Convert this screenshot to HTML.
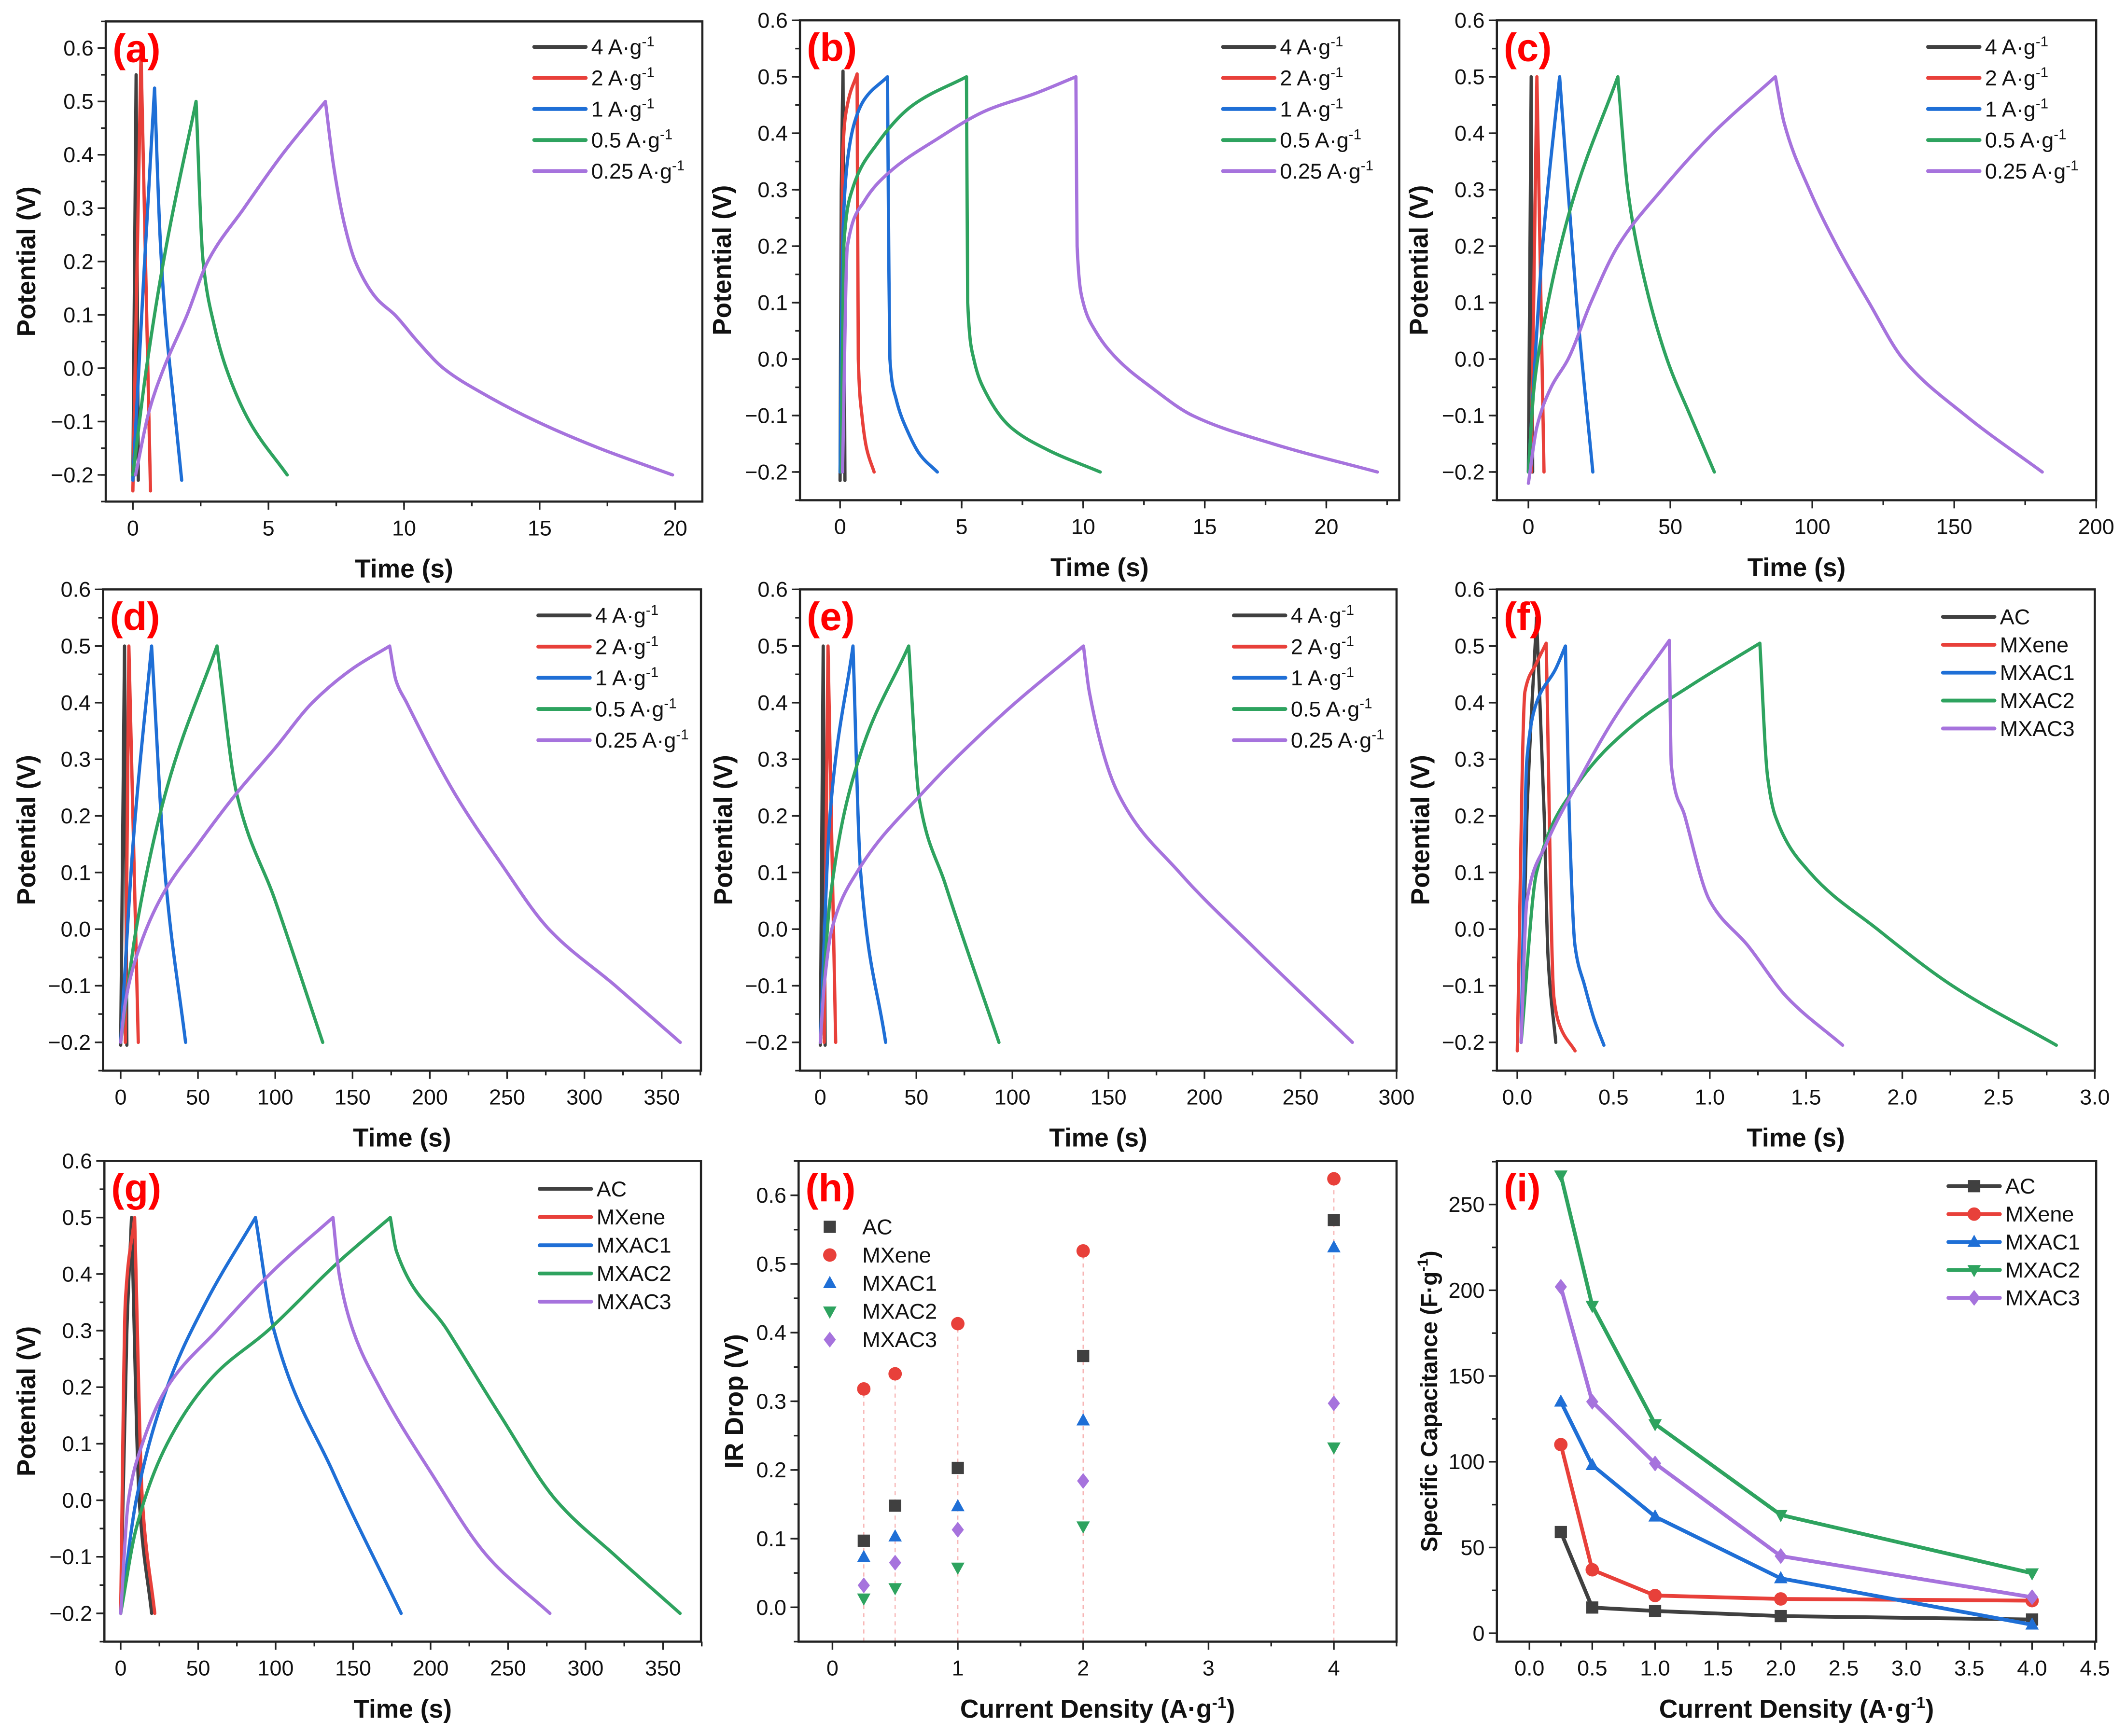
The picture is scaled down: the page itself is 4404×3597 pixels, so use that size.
<!DOCTYPE html>
<html><head><meta charset="utf-8">
<style>
html,body{margin:0;padding:0;background:#fff;}
svg{display:block;}
text{font-family:"Liberation Sans",sans-serif;}
</style></head>
<body>
<svg id="fig" width="4404" height="3597" viewBox="0 0 1568 1280.6" preserveAspectRatio="none" xmlns="http://www.w3.org/2000/svg"></svg>
<script>
// ---------- DATA ----------
const rateLabels = ["4", "2", "1", "0.5", "0.25"];
const matLabels = ["AC", "MXene", "MXAC1", "MXAC2", "MXAC3"];
const colors = ["#404040", "#e8403a", "#1f6fd6", "#2ea35f", "#a673dd"];

// panel a (time s, potential V)
const a_4 = [[0,-0.21],[0.12,0.55],[0.2,-0.21]];
const a_2 = [[0,-0.23],[0.3,0.59],[0.65,-0.23]];
const a_1 = [[0,-0.21],[0.4,0.17],[0.8,0.525],[1.0,0.25],[1.2,0.09],[1.5,-0.06],[1.8,-0.21]];
const a_05 = [[0,-0.2],[0.5,0.0],[1.2,0.22],[2.33,0.5],[2.59,0.2],[3.0,0.08],[3.44,0.0],[4.3,-0.1],[5.69,-0.2]];
const a_025 = [[0.1,-0.2],[0.6,-0.08],[1.14,0.0],[2.0,0.1],[2.76,0.2],[4.1,0.3],[5.5,0.4],[7.1,0.5],[7.4,0.38],[7.8,0.27],[8.2,0.2],[9.0,0.13],[9.66,0.1],[10.5,0.05],[11.45,0.0],[13.0,-0.05],[14.9,-0.1],[17.2,-0.15],[19.9,-0.2]];
// panel b
const b_4 = [[0,-0.215],[0.05,0.3],[0.12,0.51],[0.2,-0.215]];
const b_2 = [[0.05,-0.2],[0.1,0.35],[0.3,0.45],[0.7,0.505],[0.75,0.0],[0.9,-0.1],[1.1,-0.16],[1.4,-0.2]];
const b_1 = [[0,-0.2],[0.1,0.2],[0.3,0.35],[0.6,0.42],[1.0,0.46],[1.95,0.5],[2.0,0.2],[2.05,0.0],[2.3,-0.07],[2.8,-0.13],[3.3,-0.17],[4.0,-0.2]];
const b_05 = [[0.05,-0.2],[0.15,0.2],[0.5,0.3],[1.5,0.38],[3.0,0.45],[5.2,0.5],[5.25,0.1],[5.5,0.0],[6.0,-0.06],[7.0,-0.12],[8.5,-0.16],[10.7,-0.2]];
const b_025 = [[0.1,-0.2],[0.3,0.2],[1.0,0.28],[2.0,0.33],[4.0,0.39],[6.0,0.44],[8.0,0.47],[9.7,0.5],[9.75,0.2],[10.0,0.1],[10.5,0.05],[11.4,0.0],[12.8,-0.05],[14.5,-0.1],[17.8,-0.15],[22.1,-0.2]];
// panel c
const c_4 = [[0,-0.2],[1,0.5],[1.5,-0.2]];
const c_2 = [[1,-0.2],[3,0.5],[5.5,-0.2]];
const c_1 = [[0,-0.2],[5,0.2],[11,0.5],[17,0.1],[22.7,-0.2]];
const c_05 = [[0,-0.2],[2,-0.05],[5,0.05],[15,0.27],[31.5,0.5],[35,0.3],[40,0.16],[48.8,0.0],[57,-0.1],[65.5,-0.2]];
const c_025 = [[0,-0.22],[3,-0.12],[8,-0.05],[14,0.0],[22,0.1],[31.5,0.2],[47,0.3],[65,0.4],[87,0.5],[90,0.42],[99,0.3],[108.7,0.2],[120,0.1],[132,0.0],[154,-0.1],[181,-0.2]];
// panel d
const d_4 = [[0,-0.205],[2.5,0.5],[4,-0.205]];
const d_2 = [[3,-0.2],[5.3,0.5],[11.4,-0.2]];
const d_1 = [[0,-0.2],[8,0.15],[20,0.5],[29,0.09],[42,-0.2]];
const d_05 = [[0,-0.2],[10,0.0],[30,0.25],[62.3,0.5],[75,0.24],[100,0.05],[130.7,-0.2]];
const d_025 = [[0,-0.2],[3,-0.13],[10,-0.05],[27,0.06],[50,0.15],[75,0.24],[100,0.32],[124,0.4],[150,0.46],[174,0.5],[178,0.44],[185,0.4],[216,0.24],[245,0.12],[277,0.0],[320,-0.1],[362,-0.2]];
// panel e
const e_4 = [[0,-0.205],[1.5,0.5],[2.5,-0.205]];
const e_2 = [[2,-0.2],[4,0.5],[8,-0.2]];
const e_1 = [[0,-0.2],[5,0.2],[17,0.5],[21,0.1],[34,-0.2]];
const e_05 = [[0,-0.2],[5,0.05],[20,0.3],[46,0.5],[51.5,0.23],[65,0.08],[93,-0.2]];
const e_025 = [[0,-0.2],[2,-0.1],[6,0.0],[19,0.1],[53,0.24],[95,0.38],[137,0.5],[140,0.42],[155,0.24],[187,0.1],[225,-0.03],[277,-0.2]];
// panel f
const f_ac = [[0.02,-0.2],[0.05,0.2],[0.1,0.55],[0.14,0.2],[0.16,-0.05],[0.2,-0.2]];
const f_mx = [[0.0,-0.215],[0.04,0.42],[0.1,0.47],[0.15,0.505],[0.19,-0.12],[0.22,-0.17],[0.3,-0.215]];
const f_m1 = [[0.02,-0.2],[0.05,0.3],[0.1,0.4],[0.2,0.46],[0.25,0.5],[0.27,0.2],[0.3,-0.03],[0.35,-0.1],[0.4,-0.16],[0.45,-0.205]];
const f_m2 = [[0.02,-0.2],[0.1,0.1],[0.3,0.25],[0.6,0.36],[0.9,0.43],[1.26,0.505],[1.3,0.27],[1.34,0.2],[1.52,0.1],[1.87,0.0],[2.26,-0.1],[2.8,-0.205]];
const f_m3 = [[0.02,-0.2],[0.05,0.05],[0.15,0.15],[0.3,0.25],[0.5,0.37],[0.79,0.51],[0.8,0.29],[0.87,0.2],[1.0,0.05],[1.2,-0.03],[1.4,-0.12],[1.69,-0.205]];
// panel g
const g_ac = [[0,-0.2],[4,0.3],[7,0.5],[12,0.0],[20,-0.2]];
const g_mx = [[0,-0.2],[3,0.35],[9,0.5],[14,0.0],[22,-0.2]];
const g_m1 = [[0,-0.2],[10,0.0],[30,0.2],[55,0.35],[87,0.5],[99,0.3],[137,0.05],[181,-0.2]];
const g_m2 = [[0,-0.2],[10,-0.05],[30,0.1],[60,0.22],[95,0.3],[140,0.42],[174,0.5],[178,0.44],[211,0.3],[245,0.15],[281,0.0],[320,-0.1],[361,-0.2]];
const g_m3 = [[0,-0.2],[5,0.0],[14,0.1],[30,0.2],[62,0.3],[100,0.41],[137,0.5],[141,0.4],[150,0.3],[167,0.2],[200,0.05],[237,-0.1],[277,-0.2]];
// panel h (IR drop, V)
const currentDensity = [0.25, 0.5, 1, 2, 4];
const ir_ac = [0.097, 0.148, 0.203, 0.366, 0.564];
const ir_mx = [0.318, 0.340, 0.413, 0.519, 0.624];
const ir_m1 = [0.073, 0.103, 0.147, 0.272, 0.524];
const ir_m2 = [0.013, 0.028, 0.058, 0.118, 0.233];
const ir_m3 = [0.032, 0.065, 0.113, 0.184, 0.297];
// panel i (specific capacitance, F/g)
const cap_ac = [59, 15, 13, 10, 8];
const cap_mx = [110, 37, 22, 20, 19];
const cap_m1 = [135, 98, 68, 32, 5];
const cap_m2 = [267, 191, 122, 69, 35];
const cap_m3 = [202, 135, 99, 45, 21];

// ---------- RENDER ----------
const NS = "http://www.w3.org/2000/svg";
const svg = document.getElementById("fig");
function el(tag, attrs, parent) {
  const e = document.createElementNS(NS, tag);
  for (const k in attrs) e.setAttribute(k, attrs[k]);
  (parent || svg).appendChild(e);
  return e;
}
function range(a, b, s) { const r = []; for (let v = a; v <= b + 1e-9; v += s) r.push(+v.toFixed(6)); return r; }
function fmt(v, d) { const s = Math.abs(v).toFixed(d); return (v < -1e-9 ? "\u2212" : "") + s; }

function makePanel(p) {
  const g = el("g", {});
  
  
  const sx = v => p.x0 + (v - p.xd[0]) / (p.xd[1] - p.xd[0]) * (p.x1 - p.x0);
  const sy = v => p.y1 - (v - p.yd[0]) / (p.yd[1] - p.yd[0]) * (p.y1 - p.y0);
  p.sx = sx; p.sy = sy; p.g = g;
  const ax = el("g", {stroke: "#222", "stroke-width": 1.2}, g);
  
  
  p.xt.forEach(v => { el("line", {x1: sx(v), x2: sx(v), y1: p.y1, y2: p.y1 + 6}, ax); });
  p.xm.forEach(v => { el("line", {x1: sx(v), x2: sx(v), y1: p.y1, y2: p.y1 + 3.5}, ax); });
  p.yt.forEach(v => { el("line", {x1: p.x0, x2: p.x0 - 6, y1: sy(v), y2: sy(v)}, ax); });
  p.ym.forEach(v => { el("line", {x1: p.x0, x2: p.x0 - 3.5, y1: sy(v), y2: sy(v)}, ax); });
  p.xt.forEach(v => {
    const t = el("text", {x: sx(v), y: p.y1 + 25, "font-size": 16, "text-anchor": "middle", fill: "#111"}, g);
    
    
    t.textContent = fmt(v, p.xdec);
  });
  p.yt.forEach(v => {
    const t = el("text", {x: p.x0 - 9, y: sy(v) + 5.5, "font-size": 16, "text-anchor": "end", fill: "#111"}, g);
    
    
    t.textContent = fmt(v, p.ydec);
  });
  const xt = el("text", {x: (p.x0 + p.x1) / 2, y: p.y1 + 56, "font-size": 19, "font-weight": "bold", "text-anchor": "middle", fill: "#111"}, g);
  
  
  if (p.xtitleSup) {
    xt.appendChild(document.createTextNode("Current Density (A\u00b7g"));
    const s = el("tspan", {dy: -7, "font-size": 12}, xt); s.textContent = "-1";
    const s2 = el("tspan", {dy: 7}, xt); s2.textContent = ")";
  } else xt.textContent = "Time (s)";
  const yc = (p.y0 + p.y1) / 2, yx = p.x0 - p.ytOff;
  const yt = el("text", {x: yx, y: yc, "font-size": p.ytSize || 19, "font-weight": "bold", "text-anchor": "middle", fill: "#111", transform: `rotate(-90 ${yx} ${yc})`, dy: 6}, g);
  
  
  if (p.ytitle === "cap") {
    yt.appendChild(document.createTextNode("Specific Capacitance (F\u00b7g"));
    const s = el("tspan", {dy: -7, "font-size": 11}, yt); s.textContent = "-1";
    const s2 = el("tspan", {dy: 7}, yt); s2.textContent = ")";
  } else yt.textContent = p.ytitle;
  return p;
}
function finishPanel(p) {
  const f = el("rect", {x: p.x0, y: p.y0, width: p.x1 - p.x0, height: p.y1 - p.y0, fill: "none", stroke: "#222", "stroke-width": 1.6}, p.g);
  
  
  const l = el("text", {x: p.x0 + 5, y: p.y0 + 30, "font-size": 29, "font-weight": "bold", fill: "#f00"}, p.g);
  
  
  l.textContent = "(" + p.id + ")";
}
// monotone cubic (Fritsch-Carlson) segment path in data space, mapped through scales
function monoPath(p, pts, first) {
  const n = pts.length;
  let d = first ? "M" + p.sx(pts[0][0]).toFixed(2) + "," + p.sy(pts[0][1]).toFixed(2) : "";
  if (n < 3) {
    for (let i = 1; i < n; i++) d += "L" + p.sx(pts[i][0]).toFixed(2) + "," + p.sy(pts[i][1]).toFixed(2);
    return d;
  }
  const dx = [], sl = [];
  for (let i = 0; i < n - 1; i++) { dx.push(pts[i + 1][0] - pts[i][0]); sl.push((pts[i + 1][1] - pts[i][1]) / dx[i]); }
  const m = [sl[0]];
  for (let i = 1; i < n - 1; i++) {
    if (sl[i - 1] * sl[i] <= 0) m.push(0);
    else { const w1 = 2 * dx[i] + dx[i - 1], w2 = dx[i] + 2 * dx[i - 1]; m.push((w1 + w2) / (w1 / sl[i - 1] + w2 / sl[i])); }
  }
  m.push(sl[n - 2]);
  for (let i = 0; i < n - 1; i++) {
    const h = dx[i];
    const c1x = pts[i][0] + h / 3, c1y = pts[i][1] + m[i] * h / 3;
    const c2x = pts[i + 1][0] - h / 3, c2y = pts[i + 1][1] - m[i + 1] * h / 3;
    d += "C" + p.sx(c1x).toFixed(2) + "," + p.sy(c1y).toFixed(2) + " " + p.sx(c2x).toFixed(2) + "," + p.sy(c2y).toFixed(2) + " " + p.sx(pts[i + 1][0]).toFixed(2) + "," + p.sy(pts[i + 1][1]).toFixed(2);
  }
  return d;
}
function drawCurve(p, pts, color, name) {
  let k = 0;
  pts.forEach((q, i) => { if (q[1] > pts[k][1]) k = i; });
  const d = monoPath(p, pts.slice(0, k + 1), true) + monoPath(p, pts.slice(k), false);
  const path = el("path", {d: d, fill: "none", stroke: color, "stroke-width": 2.4, "stroke-linejoin": "round", "stroke-linecap": "round"}, p.g);
  
  
}
function marker(parent, kind, x, y, color, s) {
  let m;
  if (kind === 0) m = el("rect", {x: x - s, y: y - s, width: 2 * s, height: 2 * s, fill: color}, parent);
  else if (kind === 1) m = el("circle", {cx: x, cy: y, r: s * 1.1, fill: color}, parent);
  else if (kind === 2) m = el("polygon", {points: `${x},${y - s * 1.2} ${x - s * 1.1},${y + s * 0.8} ${x + s * 1.1},${y + s * 0.8}`, fill: color}, parent);
  else if (kind === 3) m = el("polygon", {points: `${x},${y + s * 1.2} ${x - s * 1.1},${y - s * 0.8} ${x + s * 1.1},${y - s * 0.8}`, fill: color}, parent);
  else m = el("polygon", {points: `${x},${y - s * 1.3} ${x + s},${y} ${x},${y + s * 1.3} ${x - s},${y}`, fill: color}, parent);
  return m;
}
function lineLegend(p, lx, ly0, dy, labels, sup, markers) {
  const lg = el("g", {}, p.g);
  
  
  labels.forEach((lab, i) => {
    const y = ly0 + i * dy;
    const e = el("g", {}, lg);
    
    
    el("line", {x1: lx, x2: lx + 38, y1: y, y2: y, stroke: colors[i], "stroke-width": 2.8, "stroke-linecap": "round"}, e);
    if (markers) marker(e, i, lx + 19, y, colors[i], 4.5);
    const t = el("text", {x: lx + 42, y: y + 5.5, "font-size": 16, fill: "#111"}, e);
    if (sup) {
      t.appendChild(document.createTextNode(lab + " A\u00b7g"));
      const s = el("tspan", {dy: -6, "font-size": 10.5}, t); s.textContent = "-1";
    } else t.textContent = lab;
  });
}
const tY = range(-0.2, 0.6, 0.1), tYm = range(-0.25, 0.6, 0.05);

const A = makePanel({id: "a", x0: 78, x1: 518, y0: 15.8, y1: 370, xd: [-1, 21], yd: [-0.25, 0.65], xt: range(0, 20, 5), xm: range(2.5, 20, 2.5), yt: tY, ym: range(-0.25, 0.65, 0.05), xdec: 0, ydec: 1, ytitle: "Potential (V)", ytOff: 58});
[a_4, a_2, a_1, a_05, a_025].forEach((s, i) => drawCurve(A, s, colors[i], "a-" + rateLabels[i]));
lineLegend(A, 394, 34.6, 22.9, rateLabels, true); finishPanel(A);

const B = makePanel({id: "b", x0: 590, x1: 1032, y0: 15, y1: 369, xd: [-1.65, 23.0], yd: [-0.25, 0.6], xt: range(0, 20, 5), xm: range(2.5, 22.5, 2.5), yt: tY, ym: tYm, xdec: 0, ydec: 1, ytitle: "Potential (V)", ytOff: 57});
[b_4, b_2, b_1, b_05, b_025].forEach((s, i) => drawCurve(B, s, colors[i], "b-" + rateLabels[i]));
lineLegend(B, 902, 34.6, 22.9, rateLabels, true); finishPanel(B);

const C = makePanel({id: "c", x0: 1104, x1: 1546, y0: 15, y1: 369, xd: [-11.1, 200], yd: [-0.25, 0.6], xt: range(0, 200, 50), xm: range(25, 175, 50), yt: tY, ym: tYm, xdec: 0, ydec: 1, ytitle: "Potential (V)", ytOff: 57});
[c_4, c_2, c_1, c_05, c_025].forEach((s, i) => drawCurve(C, s, colors[i], "c-" + rateLabels[i]));
lineLegend(C, 1422, 34.6, 22.9, rateLabels, true); finishPanel(C);

const D = makePanel({id: "d", x0: 76, x1: 517, y0: 434.8, y1: 789.8, xd: [-11.4, 375.4], yd: [-0.25, 0.6], xt: range(0, 350, 50), xm: range(25, 375, 50), yt: tY, ym: tYm, xdec: 0, ydec: 1, ytitle: "Potential (V)", ytOff: 56});
[d_4, d_2, d_1, d_05, d_025].forEach((s, i) => drawCurve(D, s, colors[i], "d-" + rateLabels[i]));
lineLegend(D, 397, 454, 23, rateLabels, true); finishPanel(D);

const E = makePanel({id: "e", x0: 590, x1: 1030, y0: 434.8, y1: 789.8, xd: [-10.6, 300], yd: [-0.25, 0.6], xt: range(0, 300, 50), xm: range(25, 275, 50), yt: tY, ym: tYm, xdec: 0, ydec: 1, ytitle: "Potential (V)", ytOff: 56});
[e_4, e_2, e_1, e_05, e_025].forEach((s, i) => drawCurve(E, s, colors[i], "e-" + rateLabels[i]));
lineLegend(E, 910, 454, 23, rateLabels, true); finishPanel(E);

const F = makePanel({id: "f", x0: 1104, x1: 1545, y0: 434.8, y1: 789.8, xd: [-0.106, 3.0], yd: [-0.25, 0.6], xt: range(0, 3, 0.5), xm: range(0.25, 2.75, 0.5), yt: tY, ym: tYm, xdec: 1, ydec: 1, ytitle: "Potential (V)", ytOff: 56});
[f_ac, f_mx, f_m1, f_m2, f_m3].forEach((s, i) => drawCurve(F, s, colors[i], "f-" + matLabels[i]));
lineLegend(F, 1433, 455, 20.6, matLabels, false); finishPanel(F);

const G = makePanel({id: "g", x0: 77, x1: 517, y0: 856.4, y1: 1211, xd: [-10.5, 374.5], yd: [-0.25, 0.6], xt: range(0, 350, 50), xm: range(25, 375, 50), yt: tY, ym: tYm, xdec: 0, ydec: 1, ytitle: "Potential (V)", ytOff: 57});
[g_ac, g_mx, g_m1, g_m2, g_m3].forEach((s, i) => drawCurve(G, s, colors[i], "g-" + matLabels[i]));
lineLegend(G, 398, 877, 20.8, matLabels, false); finishPanel(G);

const H = makePanel({id: "h", x0: 589, x1: 1030, y0: 856.4, y1: 1211, xd: [-0.27, 4.5], yd: [-0.05, 0.65], xt: range(0, 4, 1), xm: range(0.5, 4.5, 1), yt: range(0, 0.6, 0.1), ym: range(-0.05, 0.65, 0.05), xdec: 0, ydec: 1, ytitle: "IR Drop (V)", ytOff: 47, xtitleSup: true});
const irSeries = [ir_ac, ir_mx, ir_m1, ir_m2, ir_m3];
currentDensity.forEach((x, j) => {
  const top = Math.max(...irSeries.map(s => s[j]));
  const dl = el("line", {x1: H.sx(x), x2: H.sx(x), y1: H.y1, y2: H.sy(top), stroke: "#f7b5b5", "stroke-width": 0.9, "stroke-dasharray": "3,3"}, H.g);
  
  
});
irSeries.forEach((s, i) => s.forEach((v, j) => {
  const m = marker(H.g, i, H.sx(currentDensity[j]), H.sy(v), colors[i], 4.5);
  
  
}));
(function () {
  const lg = el("g", {}, H.g);
  
  
  matLabels.forEach((lab, i) => {
    const y = 905 + i * 20.8;
    marker(lg, i, 612, y, colors[i], 4.5);
    const t = el("text", {x: 636, y: y + 5.5, "font-size": 16, fill: "#111"}, lg);
    
    
    t.textContent = lab;
  });
})();
finishPanel(H);

const I = makePanel({id: "i", x0: 1104, x1: 1546, y0: 856.4, y1: 1211, xd: [-0.259, 4.51], yd: [-4.9, 275.4], xt: range(0, 4.5, 0.5), xm: range(0.25, 4.25, 0.5), yt: range(0, 250, 50), ym: range(25, 275, 50), xdec: 1, ydec: 0, ytitle: "cap", ytOff: 50, ytSize: 17, xtitleSup: true});
[cap_ac, cap_mx, cap_m1, cap_m2, cap_m3].forEach((s, i) => {
  const d = s.map((v, j) => (j ? "L" : "M") + I.sx(currentDensity[j]).toFixed(2) + "," + I.sy(v).toFixed(2)).join("");
  const path = el("path", {d: d, fill: "none", stroke: colors[i], "stroke-width": 2.8, "stroke-linejoin": "round"}, I.g);
  
  
  s.forEach((v, j) => {
    const m = marker(I.g, i, I.sx(currentDensity[j]), I.sy(v), colors[i], 4.5);
    
    
  });
});
lineLegend(I, 1437, 875, 20.6, matLabels, false, true); finishPanel(I);
</script>
</body></html>
